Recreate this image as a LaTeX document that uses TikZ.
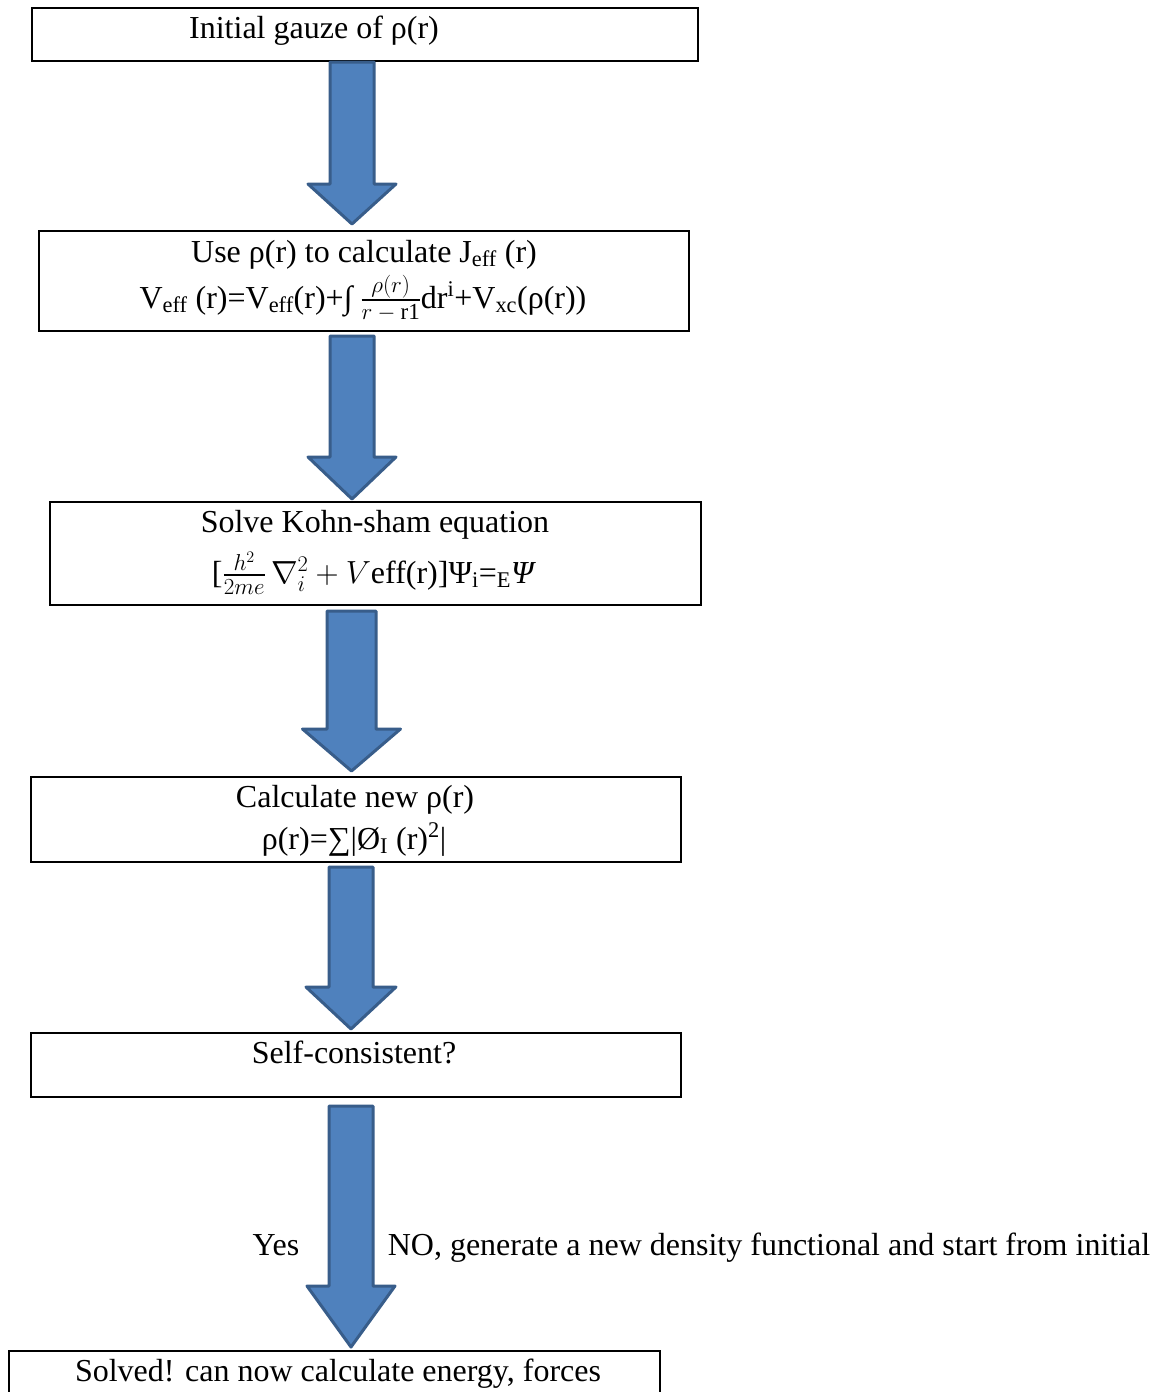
\RequirePackage{fix-cm}
\documentclass[tikz,border=0pt]{standalone}
\usepackage{fontspec}
\setmainfont{Liberation Serif}
\usepackage{amsmath,amssymb}
\usetikzlibrary{calc}
\definecolor{arrfill}{HTML}{4F81BD}
\definecolor{arrline}{HTML}{385D8A}
\newcommand{\blockarr}[8]{% from, to, cx, topgap, tipgap, shaft half, head half, head len
  \draw[arr] let \p1=(#1.south), \p2=(#2.north) in
    ({#3pt-#6pt},{\y1-#4pt}) -- ({#3pt-#6pt},{\y2+#5pt+#8pt}) -- ({#3pt-#7pt},{\y2+#5pt+#8pt})
    -- ({#3pt},{\y2+#5pt}) -- ({#3pt+#7pt},{\y2+#5pt+#8pt}) -- ({#3pt+#6pt},{\y2+#5pt+#8pt})
    -- ({#3pt+#6pt},{\y1-#4pt}) -- cycle;}
\newcommand{\fracpart}[1]{\mbox{\fontsize{23}{23}\selectfont$#1$}}
\begin{document}
\begin{tikzpicture}[x=1pt,y=-1pt,
  box/.style={draw=black, line width=2pt, inner sep=0pt, fill=white},
  txt/.style={font=\fontsize{32}{38}\selectfont, inner sep=0pt, anchor=base},
  arr/.style={fill=arrfill, draw=arrline, line width=3pt, line join=round}]
\useasboundingbox[fill=white] (0,0) rectangle (1164,1392);
% boxes
\node[box, minimum width=666pt, minimum height=53pt] (b1) at (365,34.5) {};
\node[box, minimum width=650pt, minimum height=100pt] (b2) at (364,281) {};
\node[box, minimum width=651pt, minimum height=103pt] (b3) at (375.5,553.5) {};
\node[box, minimum width=650pt, minimum height=85pt] (b4) at (356,819.5) {};
\node[box, minimum width=650pt, minimum height=64pt] (b5) at (356,1065) {};
\node[box, minimum width=651pt, minimum height=47pt] (b6) at (334.5,1374.5) {};
% texts
\node[txt] (t1) at (314,38) {Initial gauze of ρ(r)};
\node[txt] (t2a) at (364,262) {Use ρ(r) to calculate J\textsubscript{eff} (r)};
\node[txt] (t2b) at (363,308) {V\textsubscript{eff} (r)=V\textsubscript{eff}(r)+∫ $\frac{\fracpart{\rho(r)}}{\fracpart{r-\mathrm{r1}}}$dr\textsuperscript{i}+V\textsubscript{xc}(ρ(r))};
\node[txt] (t3a) at (375,532) {Solve Kohn-sham equation};
\node[txt] (t3b) at (374,583) {[$\frac{\fracpart{h^2}}{\fracpart{2me}}\,\nabla_i^2+V$eff(r)]Ψ\textsubscript{i}=\textsubscript{E}\textit{Ψ}};
\node[txt] (t4a) at (355,807) {Calculate new ρ(r)};
\node[txt] (t4b) at (354,849) {ρ(r)=∑|Ø\textsubscript{I} (r)\textsuperscript{2}|};
\node[txt] (t5) at (354,1063) {Self-consistent?};
\node[txt] (t6) at (338,1381) {Solved! can now calculate energy, forces};
% arrows
\blockarr{b1}{b2}{352}{0}{6}{22}{44}{40}
\blockarr{b2}{b3}{352}{4}{2}{22}{44}{42}
\blockarr{b3}{b4}{351.5}{5}{5}{24.5}{49}{42}
\blockarr{b4}{b5}{351}{4}{3}{22}{45}{42}
\blockarr{b5}{b6}{351}{8}{3}{22}{44}{61}
\node[txt] (yes) at (276,1255) {Yes};
\node[txt] (no) at (769,1255) {NO, generate a new density functional and start from initial};
\end{tikzpicture}
\end{document}
